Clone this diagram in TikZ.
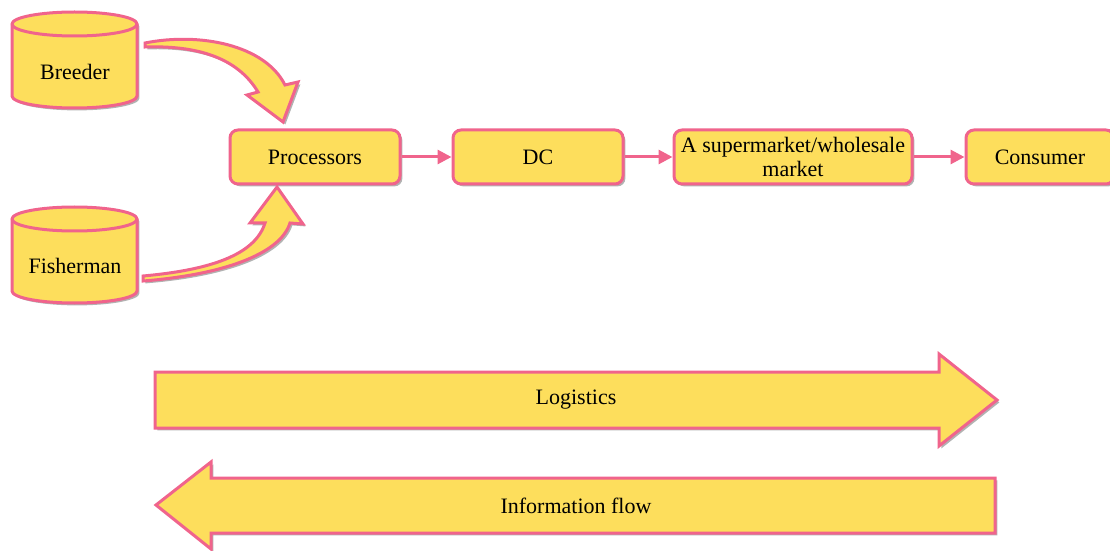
\documentclass[tikz,border=0pt]{standalone}
\usepackage{fontspec}
\setmainfont{Liberation Serif}
\usetikzlibrary{positioning}
\usetikzlibrary{shadows}
\usetikzlibrary{arrows.meta}

\definecolor{chainyellow}{RGB}{253,222,92}
\definecolor{chainpink}{RGB}{240,100,140}

\tikzset{
	dropshade/.style={drop shadow={shadow xshift=1.2pt,shadow yshift=-1.2pt,opacity=0.3,fill=black}},
	stagebox/.style={draw=chainpink,fill=chainyellow,line width=1.5pt,rounded corners=4pt,align=center,dropshade,font=\fontsize{11}{12}\selectfont},
	tank/.style={draw=chainpink,fill=chainyellow,line width=1.5pt,dropshade},
	fatarrow/.style={draw=chainpink,fill=chainyellow,line width=1.5pt,line join=miter,dropshade},
	link/.style={draw=chainpink,line width=1.5pt,-{Triangle[length=7pt,width=7pt]}},
	label/.style={font=\fontsize{11}{12}\selectfont}
}

\begin{document}
\begin{tikzpicture}[x=0.5pt,y=-0.5pt]
	\useasboundingbox (0,0) rectangle (1110,551);

	%% Sources %%
	\draw [tank] (12,24) -- (12,96) arc (180:360:31.25pt and 6pt) -- (137,24) arc (0:180:31.25pt and 6pt) -- cycle;
	\draw [draw=chainpink,line width=1.5pt] (12,24) arc (180:360:31.25pt and 6pt);
	\node [label] (breeder) at (75,72) {Breeder};
	\draw [tank] (12,219) -- (12,291) arc (180:360:31.25pt and 6pt) -- (137,219) arc (0:180:31.25pt and 6pt) -- cycle;
	\draw [draw=chainpink,line width=1.5pt] (12,219) arc (180:360:31.25pt and 6pt);
	\node [label] (fisherman) at (75,266) {Fisherman};

	%% Chain %%
	\node [stagebox,minimum width=85pt,minimum height=27pt] (proc) at (315,157) {Processors};
	\node [stagebox,minimum width=85pt,minimum height=27pt] (dc) at (538,157) {DC};
	\node [stagebox,minimum width=119pt,minimum height=27pt,inner sep=1pt] (market) at (793,157) {A supermarket/wholesale\\market};
	\node [stagebox,minimum width=74pt,minimum height=27pt] (consumer) at (1040,157) {Consumer};
	\draw [link] (proc) -- (dc);
	\draw [link] (dc) -- (market);
	\draw [link] (market) -- (consumer);

	%% Curved Arrows %%
	\draw [fatarrow] (145,43) .. controls (200,32) and (265,45) .. (285,85) -- (298,82) -- (283,122) -- (247,95) -- (258,92) .. controls (240,62) and (205,45) .. (145,47) -- cycle;
	\draw [fatarrow] (143,281) .. controls (220,275) and (280,255) .. (290,223) -- (303,224) -- (277,187) -- (250,223) -- (265,223) .. controls (255,255) and (210,270) .. (143,276) -- cycle;

	%% Flows %%
	\draw [fatarrow] (155,372) -- (939,372) -- (939,354) -- (997,400) -- (939,446) -- (939,428) -- (155,428) -- cycle;
	\node [label] (logistics) at (576,400) {Logistics};
	\draw [fatarrow] (995,478) -- (211,478) -- (211,462) -- (156,505) -- (211,549) -- (211,533) -- (995,533) -- cycle;
	\node [label] (info) at (576,506) {Information flow};

\end{tikzpicture}
\end{document}
